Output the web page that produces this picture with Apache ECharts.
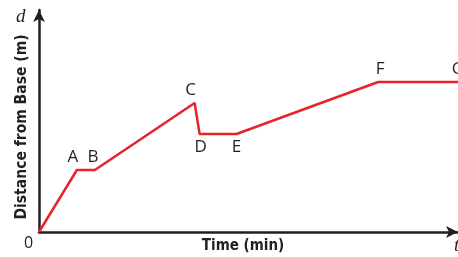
<!DOCTYPE html>
<html>
<head>
<meta charset="utf-8">
<script src="https://cdn.jsdelivr.net/npm/echarts@6/dist/echarts.min.js"></script>
<style>
  html, body { margin: 0; padding: 0; background: #fff; }
  #chart { width: 458px; height: 257px; }
</style>
</head>
<body>
<div id="chart"></div>
<script>
// journey data (time in min, distance in m)
const pointNames = ['', 'A', 'B', 'C', 'D', 'E', 'F', 'G']
const timeValues = [0, 3.8, 5.6, 15.6, 16.1, 19.8, 34.0, 42.0]
const distValues = [0, 6.2, 6.2, 12.9, 9.8, 9.8, 15.0, 15.0]

// where each letter sits next to its point
const labelPos = {
  A: { position: 'top', offset: [-4, 0] },
  B: { position: 'top', offset: [-2, 0] },
  C: { position: 'top', offset: [-4, 0] },
  D: { position: 'bottom', offset: [1, 0] },
  E: { position: 'bottom', offset: [0, 0] },
  F: { position: 'top', offset: [2, 0] },
  G: { position: 'top', offset: [0, 0] }
}

const chart = echarts.init(document.getElementById('chart'))

const seriesData = timeValues.map((t, i) => {
  const name = pointNames[i]
  const item = { value: [t, distValues[i]], name: name }
  if (name) {
    item.label = labelPos[name]
  }
  return item
})

const axisLine = {
  show: true,
  symbol: ['none', 'arrow'],
  symbolSize: [9, 12],
  lineStyle: { color: '#231f20', width: 2.5 }
}

chart.setOption({
  animation: false,
  grid: { left: 39, right: 0, top: 10, bottom: 25 },
  xAxis: {
    type: 'value',
    min: 0,
    max: 42,
    axisLine: axisLine,
    axisTick: { show: false },
    axisLabel: { show: false },
    splitLine: { show: false }
  },
  yAxis: {
    type: 'value',
    min: 0,
    max: 22.2,
    axisLine: axisLine,
    axisTick: { show: false },
    axisLabel: { show: false },
    splitLine: { show: false }
  },
  series: [{
    type: 'line',
    data: seriesData,
    symbol: 'circle',
    symbolSize: 1,
    showSymbol: true,
    itemStyle: { color: '#e8232a' },
    lineStyle: { color: '#e8232a', width: 2.5 },
    label: {
      show: true,
      formatter: p => p.name,
      fontFamily: 'Open Sans',
      fontSize: 17,
      color: '#231f20',
      distance: 4
    }
  }],
  graphic: [
    {
      type: 'text', left: 24, top: 235,
      style: { text: '0', font: '16px "Open Sans"', fill: '#231f20' }
    },
    {
      type: 'text', left: 16, top: 7,
      style: { text: 'd', font: 'italic 19px "Liberation Serif"', fill: '#231f20' }
    },
    {
      type: 'text', left: 454, top: 236,
      style: { text: 't', font: 'italic 19px "Liberation Serif"', fill: '#231f20' }
    },
    {
      type: 'text', x: 243, y: 246,
      style: {
        text: 'Time (min)', font: 'bold 15px "DejaVu Sans Condensed"',
        fill: '#231f20', align: 'center', verticalAlign: 'middle'
      }
    },
    {
      type: 'text', x: 22, y: 127, rotation: Math.PI / 2,
      style: {
        text: 'Distance from Base (m)', font: 'bold 15.5px "DejaVu Sans Condensed"',
        fill: '#231f20', align: 'center', verticalAlign: 'middle'
      }
    }
  ]
})
</script>
</body>
</html>
